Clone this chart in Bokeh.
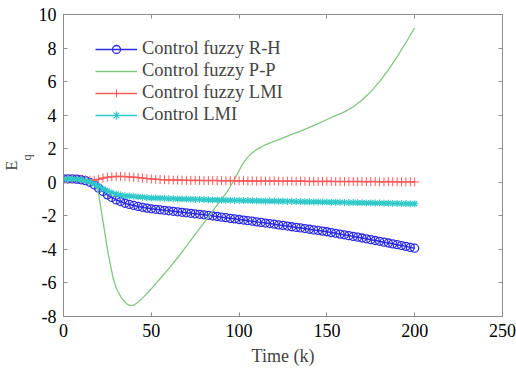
import numpy as np
from bokeh.plotting import figure
from bokeh.models import LinearAxis, Range1d, Legend, LegendItem, Title, FixedTicker
from bokeh.embed import file_html
from bokeh.resources import INLINE

# ---------------- data ----------------
t = list(np.arange(0, 200.01, 2.5))  # sample times, step 2.5

rh = [0.2, 0.2, 0.2, 0.18, 0.15,
      0.1, 0.0, -0.15, -0.35, -0.55, -0.75, -0.9, -1.05, -1.15, -1.25, -1.32, -1.38, -1.44, -1.49, -1.54, -1.58,
      -1.61, -1.64, -1.67, -1.70, -1.73, -1.76, -1.79, -1.82, -1.85, -1.88, -1.91, -1.94,
      -1.97, -2.01, -2.04, -2.08, -2.11, -2.15, -2.18, -2.22, -2.25, -2.29, -2.32, -2.36,
      -2.39, -2.43, -2.46, -2.50, -2.54, -2.57, -2.61, -2.65, -2.69, -2.72, -2.76, -2.80,
      -2.84, -2.87, -2.91, -2.95, -3.00, -3.04, -3.09, -3.13, -3.18, -3.23, -3.27, -3.32,
      -3.37, -3.42, -3.47, -3.52, -3.57, -3.62, -3.67, -3.72, -3.77, -3.82, -3.88, -3.93]

flmi = [0.2, 0.2, 0.2, 0.2, 0.18, 0.15, 0.12, 0.12, 0.18, 0.25, 0.3, 0.33, 0.35, 0.35, 0.34,
        0.32, 0.3, 0.28, 0.25, 0.22, 0.2, 0.18, 0.16, 0.15, 0.14,
        0.13, 0.13, 0.12, 0.12, 0.11, 0.12, 0.11, 0.10, 0.10, 0.11, 0.10, 0.09,
        0.09, 0.10, 0.09, 0.08, 0.09, 0.08, 0.08, 0.07, 0.08, 0.07, 0.07, 0.08,
        0.07, 0.06, 0.07, 0.06, 0.06, 0.07, 0.06, 0.05, 0.06, 0.05, 0.05, 0.06,
        0.05, 0.04, 0.05, 0.04, 0.04, 0.05, 0.04, 0.04, 0.03, 0.04, 0.04, 0.03,
        0.03, 0.04, 0.03, 0.03, 0.02, 0.03, 0.03, 0.02]

lmi = [0.2, 0.2, 0.2, 0.18, 0.15, 0.1, 0.02, -0.1, -0.25, -0.4, -0.52, -0.62, -0.7, -0.76,
       -0.8, -0.82, -0.84, -0.87, -0.89, -0.91, -0.93,
       -0.94, -0.95, -0.96, -0.97, -0.98, -0.99, -1.00, -1.00, -1.01, -1.02, -1.02, -1.03,
       -1.04, -1.05, -1.05, -1.06, -1.07, -1.07, -1.08, -1.08, -1.09, -1.09, -1.10, -1.10,
       -1.11, -1.11, -1.12, -1.12, -1.13, -1.13, -1.14, -1.14, -1.15, -1.15, -1.16, -1.16,
       -1.17, -1.17, -1.18, -1.18, -1.19, -1.19, -1.20, -1.20, -1.21, -1.21, -1.22, -1.22,
       -1.23, -1.23, -1.24, -1.24, -1.25, -1.25, -1.26, -1.26, -1.27, -1.27, -1.28, -1.28]

pp_t = [0, 5, 10, 15, 18, 20, 22, 25, 28, 30, 33, 36, 38, 40, 43, 46, 50, 55, 60, 65, 70, 75,
        80, 85, 90, 93, 95, 97, 99, 101, 103, 105, 107, 110, 114, 118, 124, 130, 135, 140,
        145, 150, 155, 160, 165, 170, 175, 180, 185, 190, 195, 200]
pp = [0.2, 0.2, 0.18, 0.1, -0.1, -0.7, -2.0, -4.0, -5.6, -6.3, -6.9, -7.25, -7.35, -7.33,
      -7.1, -6.8, -6.35, -5.75, -5.15, -4.5, -3.8, -3.1, -2.4, -1.7, -1.0, -0.6, -0.25, 0.12,
      0.5, 0.9, 1.25, 1.5, 1.72, 1.95, 2.18, 2.36, 2.6, 2.85, 3.05, 3.27, 3.5, 3.74, 3.97,
      4.2, 4.5, 4.9, 5.4, 6.0, 6.7, 7.48, 8.33, 9.2]

labels = ["Control fuzzy R-H", "Control fuzzy P-P", "Control fuzzy LMI", "Control LMI"]
x_ticks = [0, 50, 100, 150, 200, 250]
y_ticks = [-8, -6, -4, -2, 0, 2, 4, 6, 8, 10]

# ---------------- figure ----------------
FONT = "Liberation Serif"
AX = "#8c8c8c"

p = figure(width=516, height=375, x_range=Range1d(0, 250), y_range=Range1d(-8, 10),
           output_backend="svg", toolbar_location=None,
           min_border_left=63, min_border_right=14, min_border_top=14, min_border_bottom=59)
p.xgrid.visible = False
p.ygrid.visible = False
p.outline_line_color = AX
p.background_fill_color = "white"
p.border_fill_color = "white"

def style(ax, ticks, show_labels=True):
    ax.ticker = FixedTicker(ticks=ticks)
    ax.axis_line_color = AX
    ax.major_tick_line_color = AX
    ax.minor_tick_line_color = None
    ax.major_tick_in = 4
    ax.major_tick_out = 0
    ax.major_label_text_font = FONT
    ax.major_label_text_color = "black"
    ax.major_label_text_font_size = "18px"
    if show_labels:
        ax.major_label_overrides = {v: str(v) for v in ticks}
    else:
        ax.major_label_overrides = {v: "" for v in ticks}
        ax.major_label_standoff = 0

style(p.xaxis[0], x_ticks)
style(p.yaxis[0], y_ticks)
p.xaxis[0].major_label_standoff = 7
p.yaxis[0].major_label_standoff = 7
p.xaxis[0].axis_label = "Time (k)"
p.xaxis[0].axis_label_text_font = FONT
p.xaxis[0].axis_label_text_font_size = "18px"
p.xaxis[0].axis_label_text_font_style = "normal"
p.xaxis[0].axis_label_standoff = 6

top = LinearAxis()
style(top, x_ticks, False)
p.add_layout(top, "above")
right = LinearAxis()
style(right, y_ticks, False)
p.add_layout(right, "right")

BLUE = "#2a2ae6"
GREEN = "#80c880"
RED = "#ff5a5a"
CYAN = "#2ec8c8"

l1 = p.line(t, rh, line_color=BLUE, line_width=1.5)
s1 = p.scatter(t, rh, marker="circle", size=8, fill_color=None, line_color=BLUE, line_width=1.3)
l2 = p.line(pp_t, pp, line_color=GREEN, line_width=1.3)
l3 = p.line(t, flmi, line_color=RED, line_width=1.5)
s3 = p.scatter(t, flmi, marker="cross", size=9, line_color=RED, line_width=1)
l4 = p.line(t, lmi, line_color=CYAN, line_width=1.5)
s4 = p.scatter(t, lmi, marker="asterisk", size=7, line_color=CYAN, line_width=1.2)

legend = Legend(items=[LegendItem(label=labels[0], renderers=[l1, s1]),
                       LegendItem(label=labels[1], renderers=[l2]),
                       LegendItem(label=labels[2], renderers=[l3, s3]),
                       LegendItem(label=labels[3], renderers=[l4, s4])],
                location=(32, 191))
legend.border_line_color = None
legend.background_fill_alpha = 0
legend.label_text_font = FONT
legend.label_text_font_size = "18.5px"
legend.glyph_width = 42
legend.glyph_height = 20
legend.label_height = 20
legend.spacing = 1
legend.padding = 0
legend.margin = 0
legend.label_standoff = 5
p.add_layout(legend)

# y axis label E_q as two vertical titles in the left panel
tq = Title(text="q", align="left", offset=156, standoff=0, vertical_align="top",
           text_font=FONT, text_font_size="12px", text_font_style="normal")
tE = Title(text="E", align="left", offset=146, standoff=0, vertical_align="bottom",
           text_font=FONT, text_font_size="16px", text_font_style="normal")
p.add_layout(tq, "left")
p.add_layout(tE, "left")

open("out.html", "w").write(file_html(p, INLINE))
